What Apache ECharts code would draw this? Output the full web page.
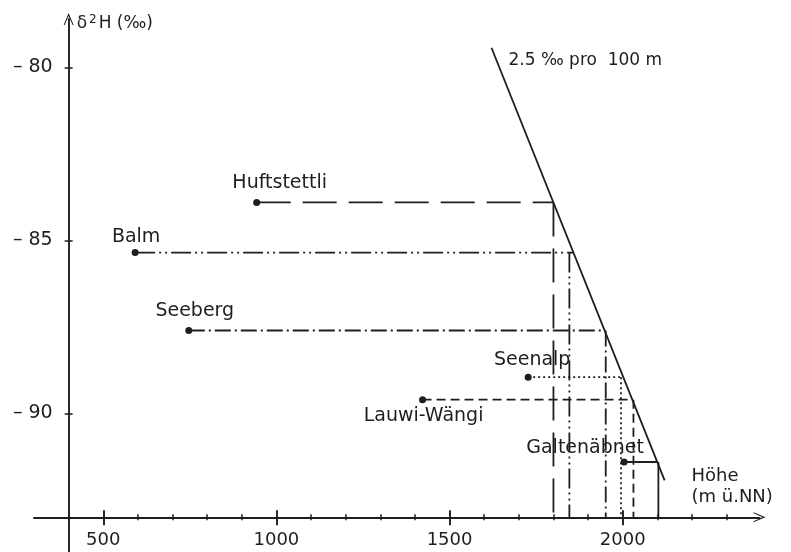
<!DOCTYPE html>
<html>
<head>
<meta charset="utf-8">
<script src="https://cdn.jsdelivr.net/npm/echarts@6/dist/echarts.min.js"></script>
<style>
html,body{margin:0;padding:0;background:#fff;}
#c{width:791px;height:552px;}
</style>
</head>
<body>
<div id="c"></div>
<script>
// ---- data ----
const stations = ['Huftstettli', 'Balm', 'Seeberg', 'Seenalp', 'Lauwi-Wängi', 'Galtenäbnet'];
const stationHeight = [943, 592, 747, 1727, 1422, 2004];
const stationDelta = [-83.9, -85.35, -87.6, -88.95, -89.6, -91.4];
const intersectHeight = [1800, 1857, 1948, 2002, 2028, 2100];
const dropHeight = [1800, 1846, 1951, 1995, 2031, 2103];
const lapseLine = [[1621, -79.43], [2121, -91.93]];
const lapseLabel = '2.5 ‰ pro  100 m';
const xTickLabels = [500, 1000, 1500, 2000];
const xMinorTicks = [400, 600, 700, 800, 900, 1100, 1200, 1300, 1400, 1600, 1700, 1800, 1900, 2100, 2200, 2300];
const yTickLabels = [-80, -85, -90];

// ---- axis ranges ----
const xMin = 300, xMax = 2395, yMin = -94, yMax = -78.6;
const xAxisAtY = -93, yAxisAtX = 400;

// ---- layout / styles ----
const G = {left: 34, top: 19, width: 725.5, height: 534};
const ink = '#1e1e1e';
const font = 'DejaVu Sans';
const yOff = -(yAxisAtX - xMin) / (xMax - xMin) * G.width;
const xOff = -(xAxisAtY - yMin) / (yMax - yMin) * G.height;
const dashStyles = [
  {type: [34, 12]},
  {type: [20, 4, 2, 4, 2, 4]},
  {type: [16, 4, 2, 4]},
  {type: [2, 3]},
  {type: [9, 5]},
  {type: 'solid'}
];
const labelOffsets = [[23, -19], [1, -16], [6, -19], [4, -17], [1, 16], [-39, -14]];
const arrowPath = 'path://M0,0 L5,12 L4,12 L0,3 L-4,12 L-5,12 Z';

const xBase = {type: 'value', min: xMin, max: xMax, gridIndex: 0, offset: xOff, position: 'bottom', splitLine: {show: false}};
const yBase = {type: 'value', min: yMin, max: yMax, gridIndex: 0, offset: yOff, position: 'left', splitLine: {show: false}};

const xAxes = [
  Object.assign({}, xBase, {
    axisLine: {show: true, symbol: ['none', arrowPath], symbolSize: [10, 12], lineStyle: {color: ink, width: 1.9}},
    axisTick: {show: true, inside: false, length: 8, customValues: xTickLabels, lineStyle: {color: ink, width: 1.9}},
    axisLabel: {show: true, customValues: xTickLabels, margin: 14, color: ink, fontFamily: font, fontSize: 18,
      formatter: v => String(v)},
    name: '{a|Höhe}\n{a|(m ü.NN)}',
    nameLocation: 'end', nameGap: -68,
    nameTextStyle: {align: 'left', verticalAlign: 'bottom', padding: [0, 0, 9, 0], lineHeight: 21,
      rich: {a: {fontFamily: font, fontSize: 18, color: ink, lineHeight: 21}}}
  }),
  Object.assign({}, xBase, {
    axisLine: {show: false},
    axisTick: {show: true, inside: true, length: 7, customValues: xTickLabels, lineStyle: {color: ink, width: 1.9}},
    axisLabel: {show: false}
  }),
  Object.assign({}, xBase, {
    axisLine: {show: false},
    axisTick: {show: true, inside: false, length: 3, customValues: xMinorTicks, lineStyle: {color: ink, width: 1.5}},
    axisLabel: {show: false}
  }),
  Object.assign({}, xBase, {
    axisLine: {show: false},
    axisTick: {show: true, inside: true, length: 3, customValues: xMinorTicks, lineStyle: {color: ink, width: 1.5}},
    axisLabel: {show: false}
  })
];

const yAxes = [
  Object.assign({}, yBase, {
    axisLine: {show: true, symbol: ['none', arrowPath], symbolSize: [10, 12], lineStyle: {color: ink, width: 1.9}},
    axisTick: {show: true, inside: false, length: 4, customValues: yTickLabels, lineStyle: {color: ink, width: 1.5}},
    axisLabel: {show: true, customValues: yTickLabels, margin: 16, color: ink, fontFamily: font, fontSize: 19,
      formatter: v => '– ' + Math.abs(v)},
    name: '{d|δ}{s|2}{d|H (‰)}',
    nameLocation: 'end', nameGap: -5,
    nameTextStyle: {align: 'left', verticalAlign: 'middle', padding: [0, 0, 0, 8],
      rich: {d: {fontFamily: font, fontSize: 17, color: ink}, s: {fontFamily: font, fontSize: 12, color: ink, verticalAlign: 'top', padding: [0, 2, 8, 2]}}}
  }),
  Object.assign({}, yBase, {
    axisLine: {show: false},
    axisTick: {show: true, inside: true, length: 4, customValues: yTickLabels, lineStyle: {color: ink, width: 1.5}},
    axisLabel: {show: false}
  })
];

const series = [];
series.push({
  type: 'line', xAxisIndex: 0, yAxisIndex: 0, data: lapseLine, symbol: 'none', silent: true,
  lineStyle: {color: ink, width: 1.8},
  markPoint: {
    symbol: 'circle', symbolSize: 0,
    data: [{coord: lapseLine[0], label: {show: true, formatter: lapseLabel, position: 'right', offset: [12, 13],
      color: ink, fontFamily: font, fontSize: 17}}]
  }
});
stations.forEach((s, i) => {
  series.push({
    type: 'line', xAxisIndex: 0, yAxisIndex: 0, symbol: 'none', silent: true,
    data: [[stationHeight[i], stationDelta[i]], [intersectHeight[i], stationDelta[i]]],
    lineStyle: Object.assign({color: ink, width: 1.8}, dashStyles[i])
  });
  series.push({
    type: 'line', xAxisIndex: 0, yAxisIndex: 0, symbol: 'none', silent: true,
    data: [[dropHeight[i], stationDelta[i]], [dropHeight[i], xAxisAtY]],
    lineStyle: Object.assign({color: ink, width: 1.8}, dashStyles[i])
  });
});
series.push({
  type: 'scatter', xAxisIndex: 0, yAxisIndex: 0, symbolSize: 7, silent: true,
  itemStyle: {color: ink, opacity: 1},
  data: stations.map((s, i) => ({
    value: [stationHeight[i], stationDelta[i]], name: s,
    label: {show: true, formatter: s, position: 'inside', offset: labelOffsets[i],
      color: ink, fontFamily: font, fontSize: 19}
  })),
  z: 5
});

const chart = echarts.init(document.getElementById('c'), null, {renderer: 'canvas'});
chart.setOption({
  animation: false,
  backgroundColor: '#fff',
  grid: G,
  xAxis: xAxes,
  yAxis: yAxes,
  series: series
});
</script>
</body>
</html>
